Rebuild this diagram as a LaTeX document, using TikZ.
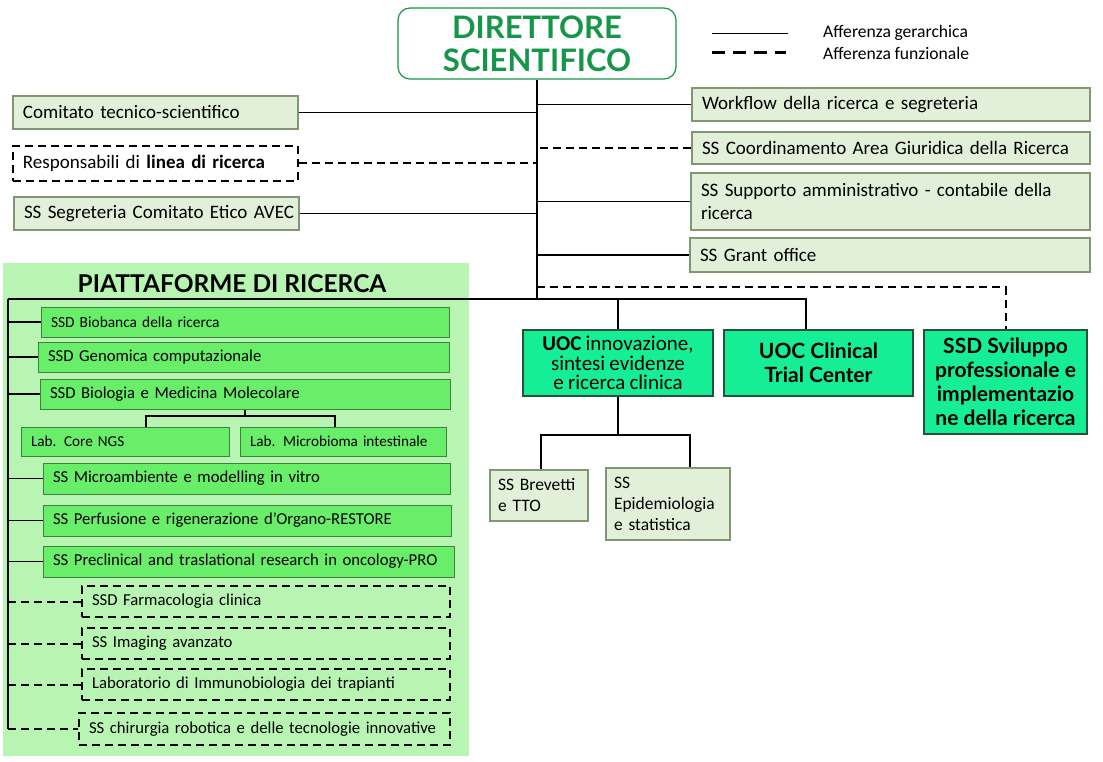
\documentclass[tikz,border=0pt]{standalone}
\usepackage{fontspec}
\setmainfont{Carlito}
\newfontfamily\headfont{Lato}
\usepackage{xcolor}
\definecolor{ColDir}{RGB}{22,150,72}
\definecolor{ColPale}{RGB}{226,239,217}
\definecolor{ColPaleB}{RGB}{130,150,115}
\definecolor{ColPanel}{RGB}{184,245,178}
\definecolor{ColPlat}{RGB}{104,238,104}
\definecolor{ColPlatB}{RGB}{60,130,60}
\definecolor{ColUoc}{RGB}{22,238,150}
\definecolor{ColUocB}{RGB}{40,80,60}
\usepackage{tikz}
\newcommand{\Tight}{\spaceskip=0.2em plus 0.05em minus 0.05em\relax}
\tikzstyle{Dir}=[rectangle,rounded corners=12pt,draw=ColDir,line width=1.2pt,
minimum width=278pt,minimum height=71pt,align=center,text=ColDir,
font=\headfont\bfseries\fontsize{31}{33}\selectfont]
\tikzstyle{Box}=[rectangle,draw=ColPaleB,fill=ColPale,line width=1.2pt,
inner xsep=10pt,align=left,font=\fontsize{19}{23}\selectfont\Tight]
\tikzstyle{BoxDash}=[Box,draw=black,fill=white,dashed,dash pattern=on 8pt off 5pt,
line width=1.8pt]
\tikzstyle{Small}=[Box,inner xsep=8pt,font=\fontsize{17.5}{21}\selectfont\Tight]
\tikzstyle{Plat}=[rectangle,draw=ColPlatB,fill=ColPlat,line width=1pt,
inner xsep=10pt,align=left,minimum height=30pt,font=\fontsize{16.7}{19}\selectfont\Tight]
\tikzstyle{PlatDash}=[Plat,fill=none,draw=black,dash pattern=on 8pt off 5pt,
line width=1.8pt]
\tikzstyle{Uoc}=[rectangle,draw=ColUocB,fill=ColUoc,line width=1.2pt,
align=center,font=\headfont\bfseries\fontsize{21}{24}\selectfont]
\tikzstyle{Legend}=[anchor=west,inner sep=0pt,font=\fontsize{17.6}{20}\selectfont\Tight]
\tikzstyle{Edge}=[draw=black,line width=1.2pt]
\tikzstyle{EdgeDash}=[draw=black,line width=2pt,dash pattern=on 8pt off 5pt]

\begin{document}
\begin{tikzpicture}[x=1pt,y=-1pt]
        \useasboundingbox[fill=white](0,0)rectangle(1103,762);
        \fill[ColPanel](3,263)rectangle(469,756);
        % top
        \node[Dir](dir)at(537,43.5){DIRETTORE\\SCIENTIFICO};
        \node[Legend](lgh)at(823,33){Afferenza gerarchica};
        \node[Legend](lgf)at(823,53){Afferenza funzionale};
        \coordinate(lh)at(712,34);
        \coordinate(lf)at(712,53);
        \draw[Edge,line width=1pt](lh)--([xshift=-35pt]lgh.west|-lh);
        \draw[EdgeDash,line width=3pt,dash pattern=on 13pt off 8pt](lf)--([xshift=-37pt]lgf.west);
        % left staff
        \node[Box,text width=265pt,minimum height=33pt](comit)at(155.5,112.5)
            {Comitato tecnico-scientifico};
        \node[BoxDash,text width=265pt,minimum height=35pt](resp)at(155.5,163.5)
            {Responsabili di \textbf{linea di ricerca}};
        \node[Box,text width=265pt,minimum height=33pt](segr)at(156.5,213.5)
            {\mbox{SS Segreteria Comitato Etico AVEC}};
        % right staff
        \node[Box,text width=378pt,minimum height=33pt](work)at(891,104.5)
            {Workflow della ricerca e segreteria};
        \node[Box,text width=378pt,minimum height=32pt](giur)at(891,148)
            {SS Coordinamento Area Giuridica della Ricerca};
        \node[Box,text width=379pt,minimum height=57pt](supp)at(890.5,201.5)
            {SS Supporto amministrativo - contabile della\\ricerca};
        \node[Box,text width=380pt,minimum height=34pt](grant)at(890,255)
            {SS Grant office};
        % platforms
        \node[font=\headfont\bfseries\fontsize{24.5}{26}\selectfont](ptitle)at(232,284)
            {PIATTAFORME DI RICERCA};
        \node[Plat,text width=388pt,font=\fontsize{15.4}{18}\selectfont\Tight](biob)at(245,322)
            {SSD Biobanca della ricerca};
        \node[Plat,text width=391pt](geno)at(243.5,357){SSD Genomica computazionale};
        \node[Plat,text width=390pt](biol)at(245,394){SSD Biologia e Medicina Molecolare};
        \node[Plat,text width=188pt,minimum height=29pt,font=\fontsize{15.2}{18}\selectfont\Tight]
            (core)at(125,441.5){Lab. Core NGS};
        \node[Plat,text width=186pt,minimum height=29pt,font=\fontsize{15.2}{18}\selectfont\Tight]
            (micr)at(343,441.5){Lab. Microbioma intestinale};
        \node[Plat,text width=387pt,minimum height=31pt](amb)at(246.5,478.5)
            {SS Microambiente e modelling in vitro};
        \node[Plat,text width=388pt,minimum height=31pt](perf)at(247,520.5)
            {SS Perfusione e rigenerazione d’Organo-RESTORE};
        \node[Plat,text width=391pt,minimum height=31pt](prec)at(248.5,561.5)
            {SS Preclinical and traslational research in oncology-PRO};
        \node[PlatDash,text width=348pt,minimum height=31pt](farm)at(266,601.5)
            {SSD Farmacologia clinica};
        \node[PlatDash,text width=348pt,minimum height=31pt](imag)at(266,643.5)
            {SS Imaging avanzato};
        \node[PlatDash,text width=348pt,minimum height=31pt](immu)at(266,684.5)
            {Laboratorio di Immunobiologia dei trapianti};
        \node[PlatDash,text width=351pt,minimum height=32pt](chir)at(264.5,729)
            {SS chirurgia robotica e delle tecnologie innovative};
        % line units
        \node[Uoc,minimum width=190pt,minimum height=66pt,
            font=\fontsize{21}{19.5}\selectfont\Tight](innov)at(618,363)
            {\textbf{UOC} innovazione,\\sintesi evidenze\\e ricerca clinica};
        \node[Uoc,minimum width=189pt,minimum height=66pt](clin)at(818.5,363)
            {UOC Clinical\\Trial Center};
        \node[Uoc,minimum width=163pt,minimum height=104pt,
            font=\headfont\bfseries\fontsize{21}{24}\selectfont](svil)at(1005.5,382)
            {SSD Sviluppo\\professionale e\\implementazio\\ne della ricerca};
        \node[Small,text width=82pt,minimum height=51pt](brev)at(539,495.5)
            {SS Brevetti\\e TTO};
        \node[Small,text width=108pt,minimum height=72pt](epid)at(668,504)
            {SS\\Epidemiologia\\e statistica};
        % connectors
        \coordinate(bus)at(8,299);
        \coordinate(fbus)at(537,287);
        \coordinate(lb1)at(146,416);
        \coordinate(lb2)at(335,416);
        \coordinate(ub1)at(541,435);
        \coordinate(ub2)at(690,435);
        \draw[Edge](dir.south)--(dir.south|-bus);
        \draw[Edge](comit.east)--(comit.east-|dir.south);
        \draw[EdgeDash](resp.east)--(resp.east-|dir.south);
        \draw[Edge](segr.east)--(segr.east-|dir.south);
        \draw[Edge](work.west)--(work.west-|dir.south);
        \draw[EdgeDash](giur.west)--(giur.west-|dir.south);
        \draw[Edge](supp.west)--(supp.west-|dir.south);
        \draw[Edge](grant.west)--(grant.west-|dir.south);
        \draw[EdgeDash](fbus)--(svil.north|-fbus)--(svil.north);
        \draw[Edge](bus)--([xshift=-12.5pt]clin.north|-bus)--([xshift=-12.5pt]clin.north);
        \draw[Edge](innov.north|-bus)--(innov.north);
        \draw[Edge](innov.south)--(innov.south|-ub1);
        \draw[Edge](brev.north-|ub1)--(ub1)--(ub2)--(epid.north-|ub2);
        \draw[Edge](bus)--(bus|-chir.west);
        \draw[Edge](bus|-biob.west)--(biob.west);
        \draw[Edge](bus|-geno.west)--(geno.west);
        \draw[Edge](bus|-biol.west)--(biol.west);
        \draw[Edge](biol.south)--(biol.south|-lb1);
        \draw[Edge](core.north-|lb1)--(lb1)--(lb2)--(micr.north-|lb2);
        \draw[Edge](bus|-amb.west)--(amb.west);
        \draw[Edge](bus|-perf.west)--(perf.west);
        \draw[Edge](bus|-prec.west)--(prec.west);
        \draw[EdgeDash](bus|-farm.west)--(farm.west);
        \draw[EdgeDash](bus|-imag.west)--(imag.west);
        \draw[EdgeDash](bus|-immu.west)--(immu.west);
        \draw[EdgeDash](bus|-chir.west)--(chir.west);
    \end{tikzpicture}
\end{document}
